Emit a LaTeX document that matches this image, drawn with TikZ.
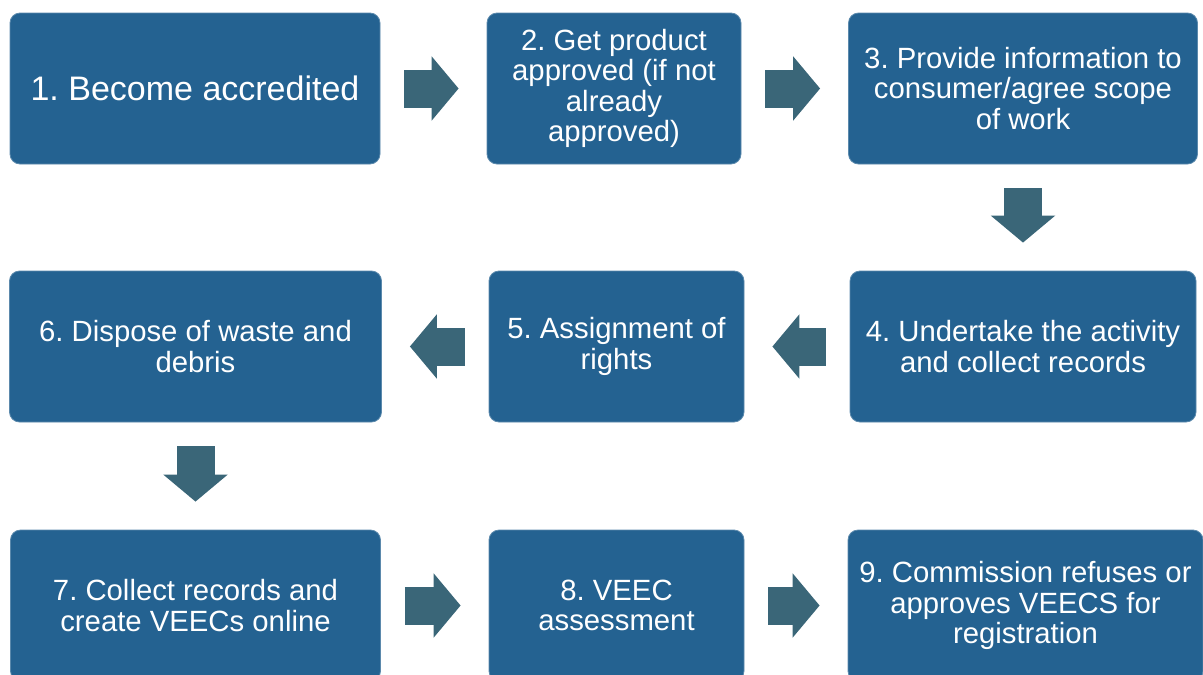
\documentclass[tikz,border=0pt]{standalone}
\usepackage{fontspec}
\setmainfont{Liberation Sans}
\usepackage{tikz}
\usetikzlibrary{arrows.meta}
\frenchspacing
\definecolor{boxblue}{RGB}{36,98,145}
\definecolor{arrowteal}{RGB}{58,102,120}
\tikzstyle{stepbox}=[rectangle,rounded corners=10pt,fill=boxblue,draw=boxblue!75!white,line width=0.8pt,text=white,align=center,minimum height=151pt,inner sep=0pt,font=\fontsize{29.3}{30.5}\selectfont]
\tikzstyle{blockarrow} = [draw=arrowteal,line width=38pt,-{Triangle[length=27pt,width=63pt]},arrowteal,shorten <=24pt,shorten >=28pt]

\begin{document}
\begin{tikzpicture}[x=1pt,y=-1pt]
    \useasboundingbox (0,0) rectangle (1203,675);
    \clip (0,0) rectangle (1203,675);
    % First we draw the steps
    \foreach \pos/\w/\name/\txt in {{(195,88.5)/370/b1/{\fontsize{34}{40}\selectfont 1. Become accredited}},
        {(614,88.5)/254/b2/{2. Get product\\approved (if not\\already\\approved)}},
        {(1023,88.5)/349/b3/{3. Provide information to\\consumer{/}agree scope\\of work}},
        {(1023,346.5)/346/b4/{4. Undertake the activity\\and collect records}},
        {(616.5,346.5)/255/b5/{5. Assignment of\\rights}},
        {(195.5,346.5)/372/b6/{6. Dispose of waste and\\debris}},
        {(195.5,605.5)/370/b7/{7. Collect records and\\create VEECs online}},
        {(616.5,605.5)/255/b8/{8. VEEC\\assessment}},
        {(1025.5,605.5)/355/b9/{9. Commission refuses or\\approves VEECS for\\registration}}}
        \node[stepbox,minimum width=\w pt] (\name) at \pos {\txt};
    % Connect steps with block arrows
    \foreach \source/ \dest in {b1/b2, b2/b3, b3/b4, b4/b5, b5/b6, b6/b7, b7/b8, b8/b9}
        \path[blockarrow] (\source) -- (\dest) ;
\end{tikzpicture}
\end{document}
